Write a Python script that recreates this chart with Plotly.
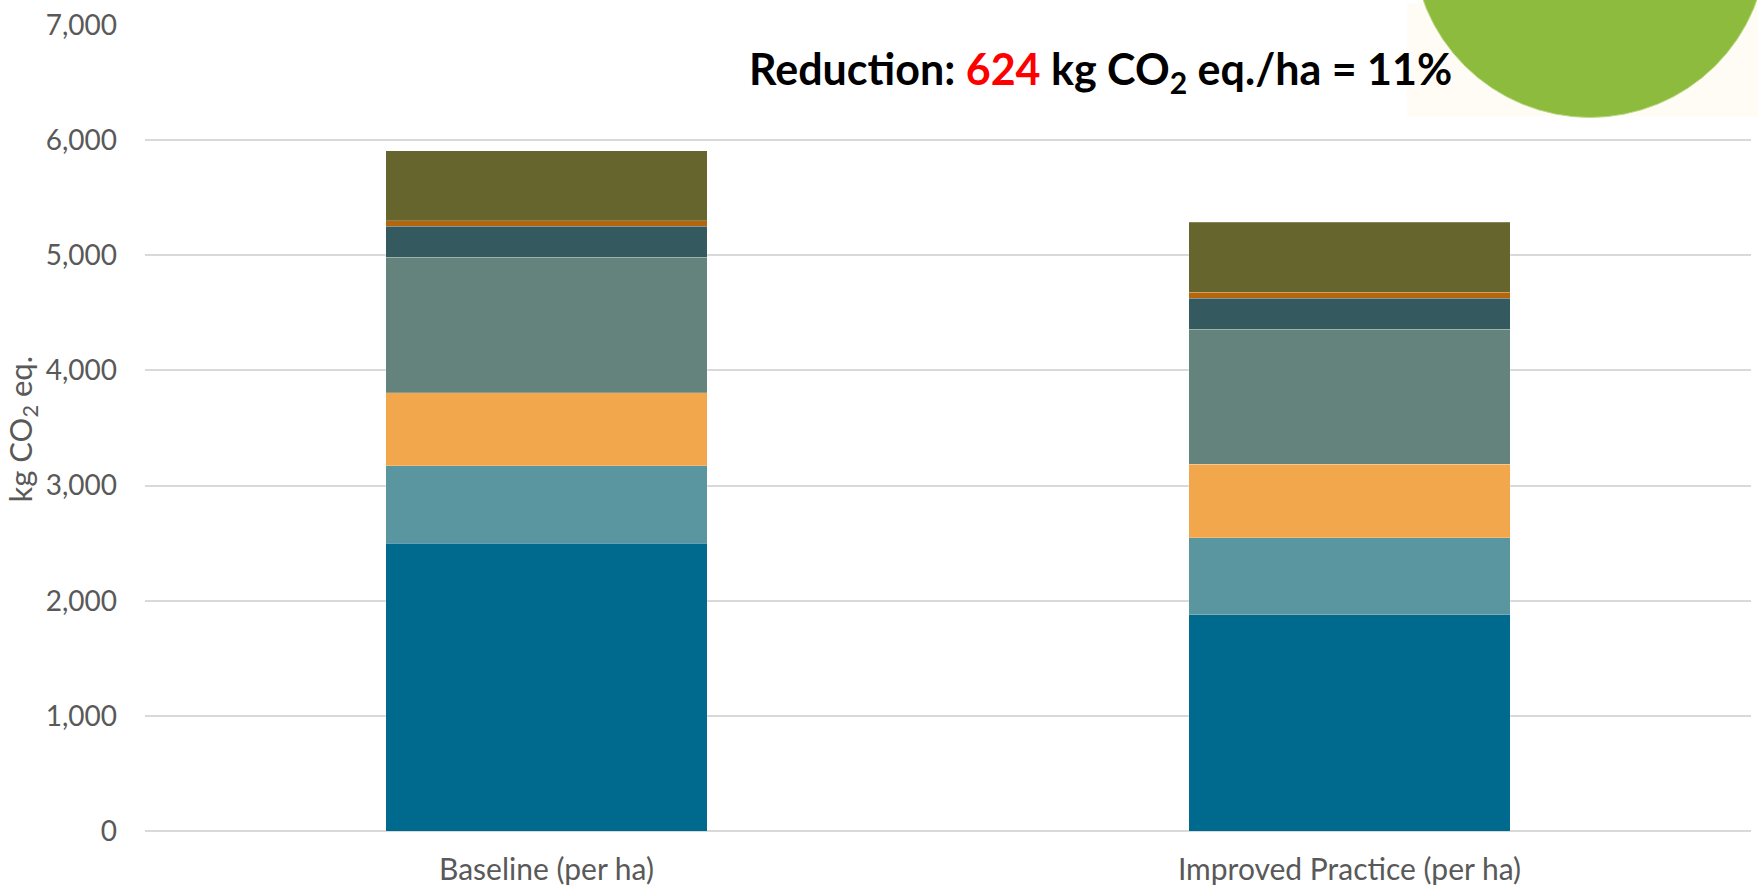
import plotly.graph_objects as go

# Stacked emission components (kg CO2 eq. per ha), bottom to top
categories = ["Baseline (per ha)", "Improved Practice (per ha)"]
series_names = [
    "Source 1", "Source 2", "Source 3", "Source 4",
    "Source 5", "Source 6", "Source 7",
]
series_values = [
    [2500, 1876],
    [672, 672],
    [636, 636],
    [1174, 1174],
    [270, 270],
    [50, 50],
    [608, 608],
]
series_colors = [
    "#006A8E", "#5A96A0", "#F2A74D", "#64837D",
    "#345A60", "#B5650A", "#67652E",
]
y_ticks = [0, 1000, 2000, 3000, 4000, 5000, 6000, 7000]
y_tick_labels = ["0", "1,000", "2,000", "3,000", "4,000", "5,000", "6,000", "7,000"]

totals = [sum(v[i] for v in series_values) for i in range(len(categories))]
reduction = totals[0] - totals[1]
reduction_pct = round(100 * reduction / totals[0])

W, H = 1758, 893
L, R, T, B = 145, 7, 20, 62
plot_w = W - L - R
plot_h = H - T - B


def px_x(px):
    return (px - L) / plot_w


def px_y(py):
    return (H - B - py) / plot_h


fig = go.Figure()
for name, vals, col in zip(series_names, series_values, series_colors):
    fig.add_trace(go.Bar(
        x=categories, y=vals, name=name,
        marker=dict(color=col, line=dict(color="rgba(255,255,255,0.35)", width=0.6)),
        hoverinfo="y+name",
    ))

FONT = "Lato, 'Open Sans', sans-serif"

fig.update_layout(
    width=W, height=H,
    barmode="stack", bargap=0.6,
    showlegend=False,
    plot_bgcolor="white", paper_bgcolor="white",
    margin=dict(l=L, r=R, t=T, b=B, pad=0),
    xaxis=dict(
        showgrid=False, showline=False, zeroline=False,
        tickfont=dict(family=FONT, size=30, color="#595959"),
        ticklabelstandoff=18,
    ),
    yaxis=dict(
        range=[0, 7000], tickvals=y_ticks, ticktext=y_tick_labels,
        showgrid=True, gridcolor="#D9D9D9", gridwidth=1.5,
        zeroline=True, zerolinecolor="#D9D9D9", zerolinewidth=1.5,
        showline=False,
        tickfont=dict(family=FONT, size=28, color="#595959"),
        ticklabelstandoff=27,
    ),
)

# Logo backdrop and green badge in the top-right corner
fig.add_shape(type="rect", xref="paper", yref="paper",
              x0=px_x(1407), x1=px_x(W + 2), y0=px_y(112), y1=px_y(-2),
              fillcolor="#FFFCF6", line=dict(width=0), layer="below")
fig.add_shape(type="circle", xref="paper", yref="paper",
              x0=px_x(1413), x1=px_x(1767), y0=px_y(113), y1=px_y(-241),
              fillcolor="#8DBB3E", line=dict(color="#B9D77F", width=1), layer="below")

# Y-axis title
fig.add_annotation(
    xref="paper", yref="paper", x=px_x(22), y=px_y(427),
    text="kg CO<sub>2</sub> eq.", textangle=-90, showarrow=False,
    font=dict(family=FONT, size=31, color="#595959"),
    xanchor="center", yanchor="middle",
)

# Reduction headline
fig.add_annotation(
    xref="paper", yref="paper", x=px_x(1100), y=px_y(67),
    text=(f"<b>Reduction: <span style='color:#FF0000'>{reduction}</span> "
          f"kg CO<sub>2</sub> eq./ha = {reduction_pct}%</b>"),
    showarrow=False,
    font=dict(family=FONT, size=43, color="#000000"),
    xanchor="center", yanchor="middle",
)

fig.write_html("out.html")
